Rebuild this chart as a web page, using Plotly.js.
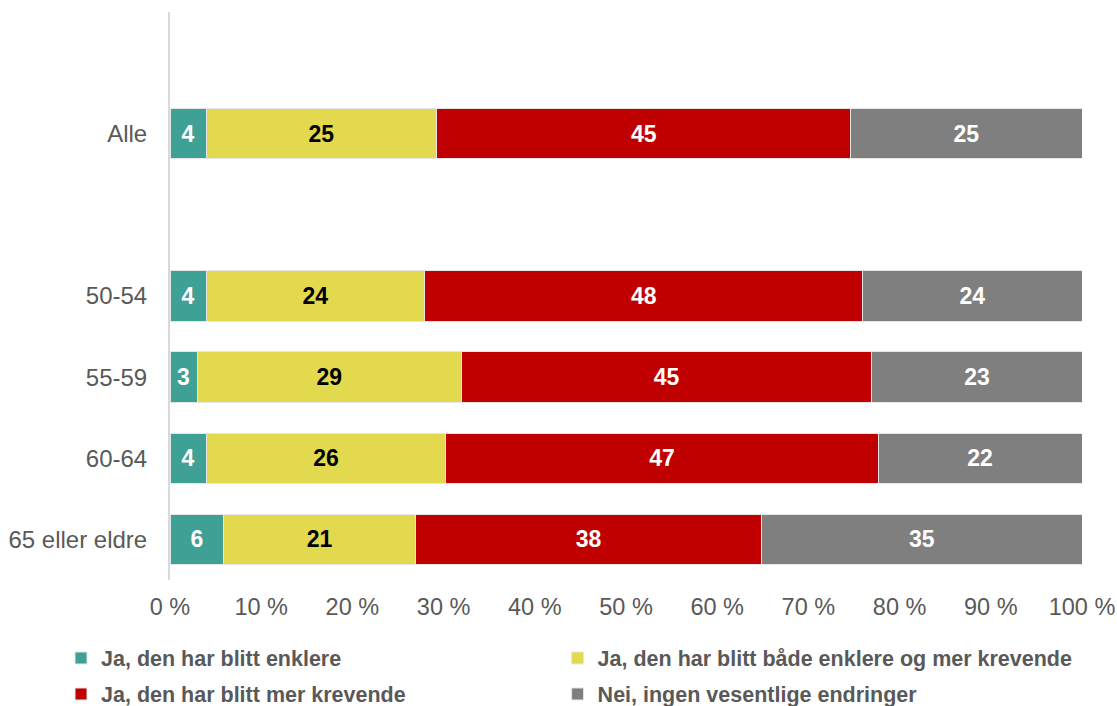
<!DOCTYPE html>
<html>
<head>
<meta charset="utf-8">
<script src="https://cdn.plot.ly/plotly-3.0.1.min.js"></script>
<style>html,body{margin:0;padding:0;background:#fff;}#chart{width:1117px;height:706px;}</style>
</head>
<body>
<div id="chart"></div>
<script>
const categories = ["Alle", "50-54", "55-59", "60-64", "65 eller eldre"];
const axisOrder = [" ", "Alle", "  ", "50-54", "55-59", "60-64", "65 eller eldre"];
const seriesNames = [
  "Ja, den har blitt enklere",
  "Ja, den har blitt både enklere og mer krevende",
  "Ja, den har blitt mer krevende",
  "Nei, ingen vesentlige endringer"
];
const enklere = [3.95, 3.95, 2.96, 3.95, 5.9];
const begge = [25.3, 24.0, 29.0, 26.3, 21.0];
const merKrevende = [45.4, 48.0, 45.0, 47.4, 38.0];
const ingenEndring = [25.35, 24.05, 23.04, 22.35, 35.1];
const colors = ["#3FA095", "#E2D94F", "#C00000", "#7F7F7F"];
const textColors = ["#FFFFFF", "#000000", "#FFFFFF", "#FFFFFF"];
const legendIds = ["legend", "legend2", "legend3", "legend4"];
const xTickVals = [0, 10, 20, 30, 40, 50, 60, 70, 80, 90, 100];
const xTickText = ["0 %", "10 %", "20 %", "30 %", "40 %", "50 %", "60 %", "70 %", "80 %", "90 %", "100 %"];

const FONT = "Liberation Sans, Arial, sans-serif";
const series = [enklere, begge, merKrevende, ingenEndring];
const traces = series.map((vals, i) => ({
  type: "bar",
  orientation: "h",
  name: seriesNames[i],
  legend: legendIds[i],
  y: categories,
  x: vals,
  marker: { color: colors[i], line: { color: "#E6E6E6", width: 1 } },
  texttemplate: "%{x:.0f}",
  textposition: "inside",
  insidetextanchor: "middle",
  textangle: 0,
  constraintext: "none",
  insidetextfont: { family: FONT, size: 23, color: textColors[i], weight: "bold" },
  hoverinfo: "skip"
}));

const legendBase = {
  orientation: "h",
  xref: "paper",
  xanchor: "left",
  yref: "paper",
  yanchor: "middle",
  itemwidth: 30,
  bgcolor: "rgba(0,0,0,0)",
  font: { family: FONT, size: 21.5, color: "#595959", weight: "bold" }
};
const col1 = -0.1195, col2 = 0.425;
const row1 = -(658 - 580) / 568, row2 = -(694 - 580) / 568;

const layout = {
  width: 1117,
  height: 706,
  paper_bgcolor: "#FFFFFF",
  plot_bgcolor: "#FFFFFF",
  margin: { l: 170, r: 35, t: 12, b: 126, autoexpand: false },
  barmode: "stack",
  bargap: 0.38,
  font: { family: FONT, color: "#595959" },
  xaxis: {
    range: [0, 100],
    tickvals: xTickVals,
    ticktext: xTickText,
    showgrid: false,
    zeroline: false,
    showline: false,
    ticks: "",
    ticklabelstandoff: 10,
    tickfont: { family: FONT, size: 23.5, color: "#595959" },
    automargin: false,
    fixedrange: true
  },
  yaxis: {
    type: "category",
    categoryorder: "array",
    categoryarray: axisOrder,
    range: [6.5, -0.5],
    showgrid: false,
    zeroline: false,
    showline: true,
    linecolor: "#D9D9D9",
    linewidth: 2,
    ticks: "",
    ticklabelstandoff: 16,
    tickfont: { family: FONT, size: 24, color: "#595959" },
    automargin: false,
    fixedrange: true
  },
  showlegend: true,
  legend: Object.assign({}, legendBase, { x: col1, y: row1 }),
  legend2: Object.assign({}, legendBase, { x: col2, y: row1 }),
  legend3: Object.assign({}, legendBase, { x: col1, y: row2 }),
  legend4: Object.assign({}, legendBase, { x: col2, y: row2 })
};

Plotly.newPlot("chart", traces, layout, { displayModeBar: false, staticPlot: true });
</script>
</body>
</html>
